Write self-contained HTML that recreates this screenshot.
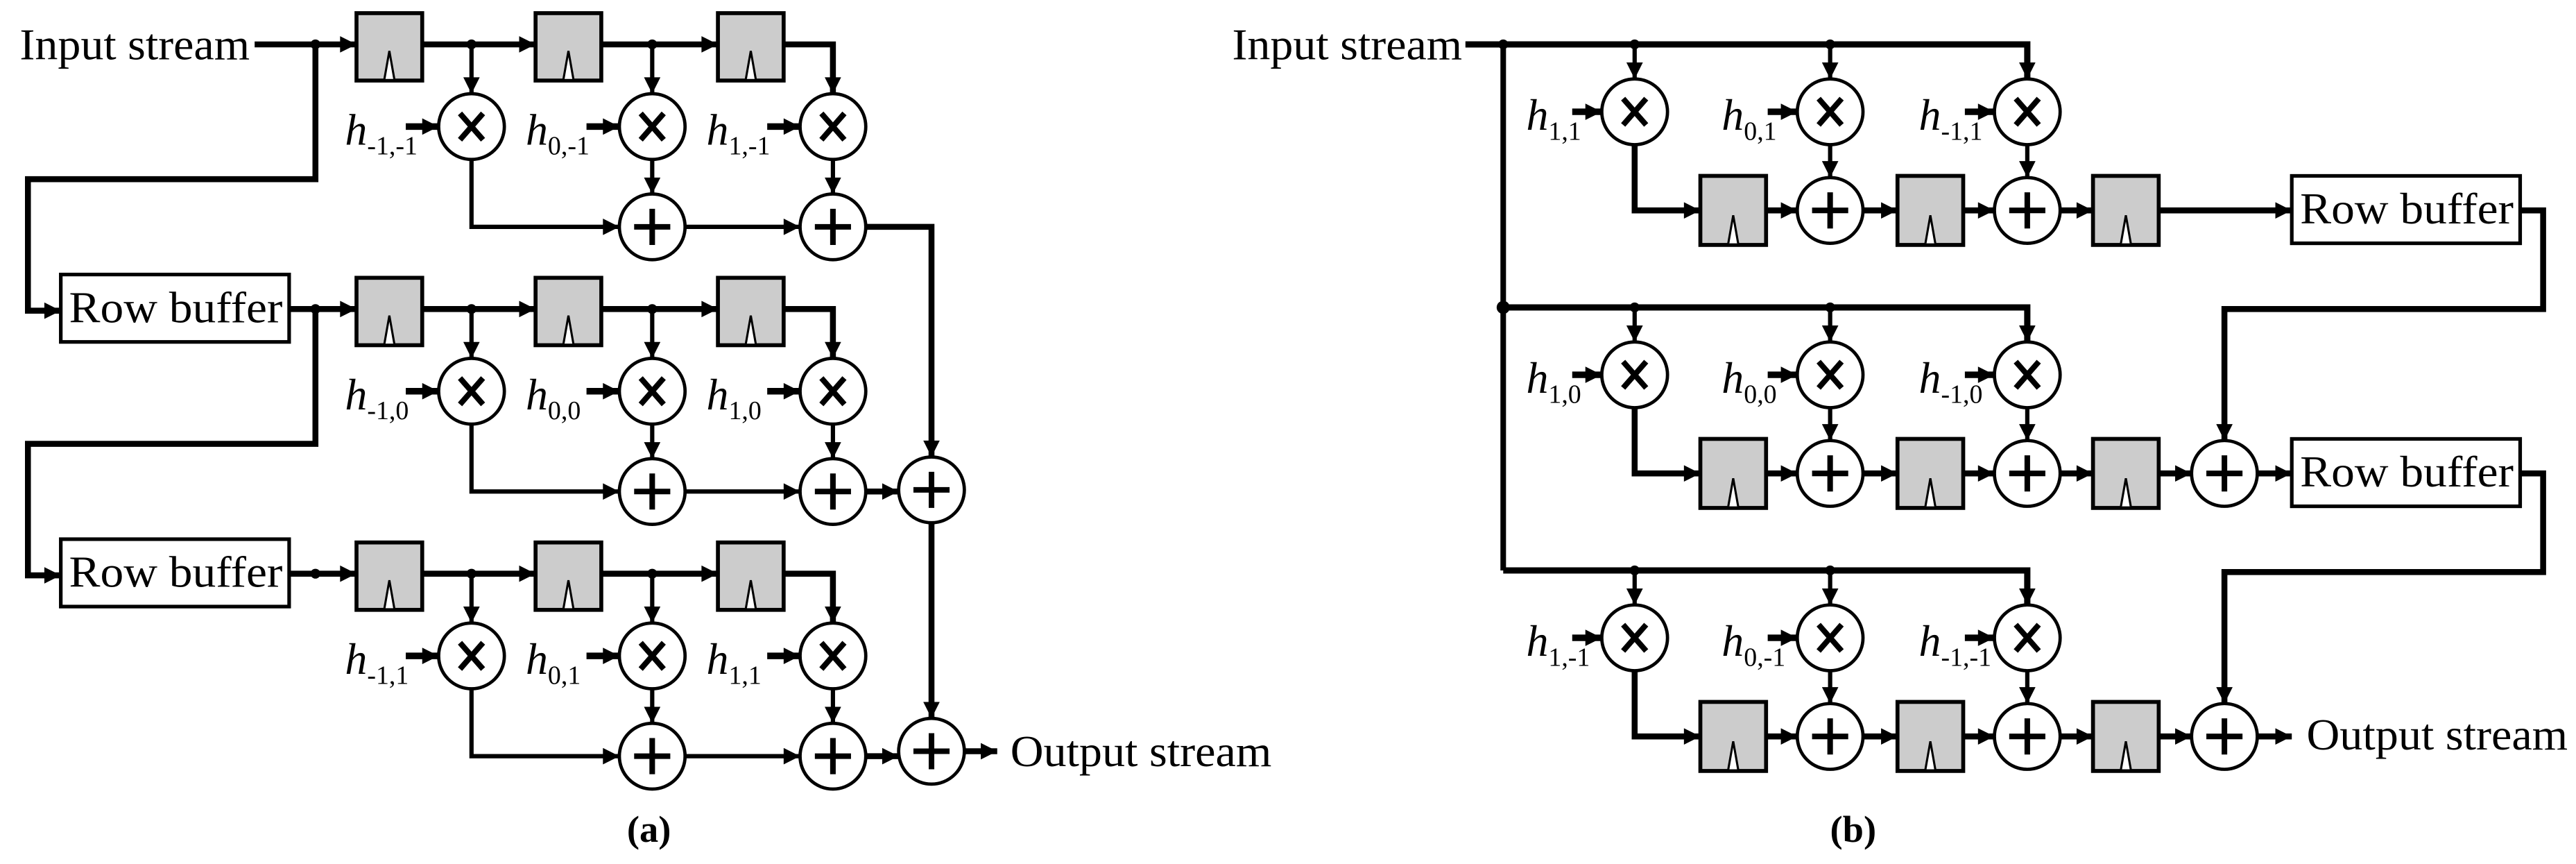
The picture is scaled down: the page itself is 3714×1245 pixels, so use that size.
<!DOCTYPE html>
<html><head><meta charset="utf-8"><style>html,body{margin:0;padding:0;background:#fff}svg{display:block}text,tspan{font-family:"Liberation Serif","Times New Roman",serif}</style></head>
<body>
<svg id="s" xmlns="http://www.w3.org/2000/svg" width="3714" height="1245" viewBox="0 0 1568 525.6" preserveAspectRatio="none">
<defs>
<marker id="ar" viewBox="0 0 10 10" refX="10" refY="5" markerWidth="11" markerHeight="10" markerUnits="userSpaceOnUse" orient="auto"><path d="M0,0 L10,5 L0,10 z" fill="#000"/></marker>
</defs>
<g id="g"></g>
</svg>
<script>
var g=document.getElementById('g'),o='';
function L(p,w,a){o+='<polyline points="'+p.map(function(q){return q.join(',')}).join(' ')+'" fill="none" stroke="#000" stroke-width="'+(w||2.6)+'" stroke-linejoin="miter"'+(a?' marker-end="url(#ar)"':'')+'/>';}
function D(x,y,r){o+='<circle cx="'+x+'" cy="'+y+'" r="'+(r||3)+'" fill="#000"/>';}
function R(x,y,h){h=h||41;o+='<rect x="'+x+'" y="'+y+'" width="40" height="'+h+'" fill="#ccc" stroke="#000" stroke-width="2.4"/>';
o+='<path d="M'+(x+17)+','+(y+h-1)+' L'+(x+20)+','+(y+h-18)+' L'+(x+23)+','+(y+h-1)+'" fill="#fff" stroke="#000" stroke-width="1.3"/>';}
function C(x,y,t){o+='<circle cx="'+x+'" cy="'+y+'" r="20" fill="#fff" stroke="#000" stroke-width="2"/>';
if(t=='x'){o+='<path d="M'+(x-7)+','+(y-8)+' L'+(x+7)+','+(y+8)+' M'+(x+7)+','+(y-8)+' L'+(x-7)+','+(y+8)+'" stroke="#000" stroke-width="3.4"/>';}
else{o+='<path d="M'+(x-11)+','+y+' L'+(x+11)+','+y+' M'+x+','+(y-11)+' L'+x+','+(y+11)+'" stroke="#000" stroke-width="3.4"/>';}}
function T(x,y,s,sz,extra){o+='<text x="'+x+'" y="'+y+'" font-size="'+sz+'" '+(extra||'')+'>'+s+'</text>';}
function H(x,y,sub){o+='<text x="'+x+'" y="'+y+'" font-size="27" font-style="italic">h<tspan font-style="normal" font-size="16" dy="6">'+sub+'</tspan></text>';}
function RB(x,y){o+='<rect x="'+x+'" y="'+y+'" width="139" height="41" fill="#fff" stroke="#000" stroke-width="2.2"/>';T(x+70,y+29,'Row buffer',27,'text-anchor="middle" textLength="130" lengthAdjust="spacingAndGlyphs"');}

/* ---------- panel (a) ---------- */
var subsA=[['-1,-1','0,-1','1,-1'],['-1,0','0,0','1,0'],['-1,1','0,1','1,1']];
for(var r=0;r<3;r++){
 var d=161*r, yl=27+d, cy=77+d, ay=138+d;
 if(r==0){T(12,36,'Input stream',27,'textLength="140" lengthAdjust="spacingAndGlyphs"');L([[155,yl],[217,yl]],3.6,1);}
 else{RB(37,167+161*(r-1)); L([[177,yl],[217,yl]],3.6,1);}
 D(192,yl);
 if(r<2){L([[192,yl],[192,109+d],[17,109+d],[17,189+d],[37,189+d]],3.6,1);}
 R(217,8+d);R(326,8+d);R(437,8+d);
 L([[257,yl],[326,yl]],3.6,1);L([[367,yl],[437,yl]],3.6,1);
 L([[477,yl],[507,yl],[507,57+d]],3.6,1);
 D(287,yl);D(397,yl);
 L([[287,yl],[287,57+d]],2.6,1);L([[397,yl],[397,57+d]],2.6,1);
 var xs=[287,397,507];
 for(var i=0;i<3;i++){C(xs[i],cy,'x');L([[xs[i]-40,cy],[xs[i]-20,cy]],4,1);H(xs[i]-77,cy+11,subsA[r][i]);}
 L([[287,cy+20],[287,ay],[377,ay]],2.6,1);
 L([[397,cy+20],[397,ay-20]],2.6,1);L([[507,cy+20],[507,ay-20]],2.6,1);
 C(397,ay,'+');C(507,ay,'+');
 L([[417,ay],[487,ay]],2.6,1);
 if(r==0){L([[527,ay],[567,ay],[567,278]],3.6,1);}
 else{L([[527,ay],[547,ay]],3.6,1);}
}
C(567,298,'+');L([[567,318],[567,437]],3.6,1);C(567,457,'+');
L([[587,457],[607,457]],3.6,1);
T(615,466,'Output stream',27,'textLength="159" lengthAdjust="spacingAndGlyphs"');
T(395,512,'(a)',23,'font-weight="bold" text-anchor="middle"');

/* ---------- panel (b) ---------- */
var subsB=[['1,1','0,1','-1,1'],['1,0','0,0','-1,0'],['1,-1','0,-1','-1,-1']];
T(750,36,'Input stream',27,'textLength="140" lengthAdjust="spacingAndGlyphs"');
L([[915,27],[915,347]],3.4);
for(var r=0;r<3;r++){
 var d=160*r, by=27+d, cy=68+d, ay=128+d;
 L([[r==0?892:915,by],[1234,by],[1234,48+d]],3.8,1);
 if(r<2)D(915,by,r==1?4:3);
 D(995,by);D(1114,by);
 L([[995,by],[995,48+d]],2.6,1);L([[1114,by],[1114,48+d]],2.6,1);
 var xs=[995,1114,1234];
 for(var i=0;i<3;i++){C(xs[i],cy,'x');L([[xs[i]-38,cy],[xs[i]-20,cy]],4,1);H(xs[i]-66,cy+11,subsB[r][i]);}
 L([[995,cy+20],[995,ay],[1035,ay]],3.6,1);
 R(1035,107+d,42);R(1155,107+d,42);R(1274,107+d,42);
 L([[1114,cy+20],[1114,ay-20]],2.6,1);L([[1234,cy+20],[1234,ay-20]],2.6,1);
 C(1114,ay,'+');C(1234,ay,'+');
 L([[1075,ay],[1094,ay]],3.6,1);L([[1134,ay],[1155,ay]],3.6,1);
 L([[1195,ay],[1214,ay]],3.6,1);L([[1254,ay],[1274,ay]],3.6,1);
 if(r==0){L([[1314,ay],[1395,ay]],3.6,1);}
 else{L([[1314,ay],[1334,ay]],3.6,1);C(1354,ay,'+');}
 if(r<2){RB(1395,107+d);L([[1534,ay],[1548,ay],[1548,188+d],[1354,188+d],[1354,268+d]],3.6,1);}
 if(r==1){L([[1374,ay],[1395,ay]],3.6,1);}
 if(r==2){L([[1374,ay],[1395,ay]],3.6,1);T(1404,456,'Output stream',27,'textLength="159" lengthAdjust="spacingAndGlyphs"');}
}
T(1128,512,'(b)',23,'font-weight="bold" text-anchor="middle"');
g.innerHTML=o;
</script>
</body></html>
